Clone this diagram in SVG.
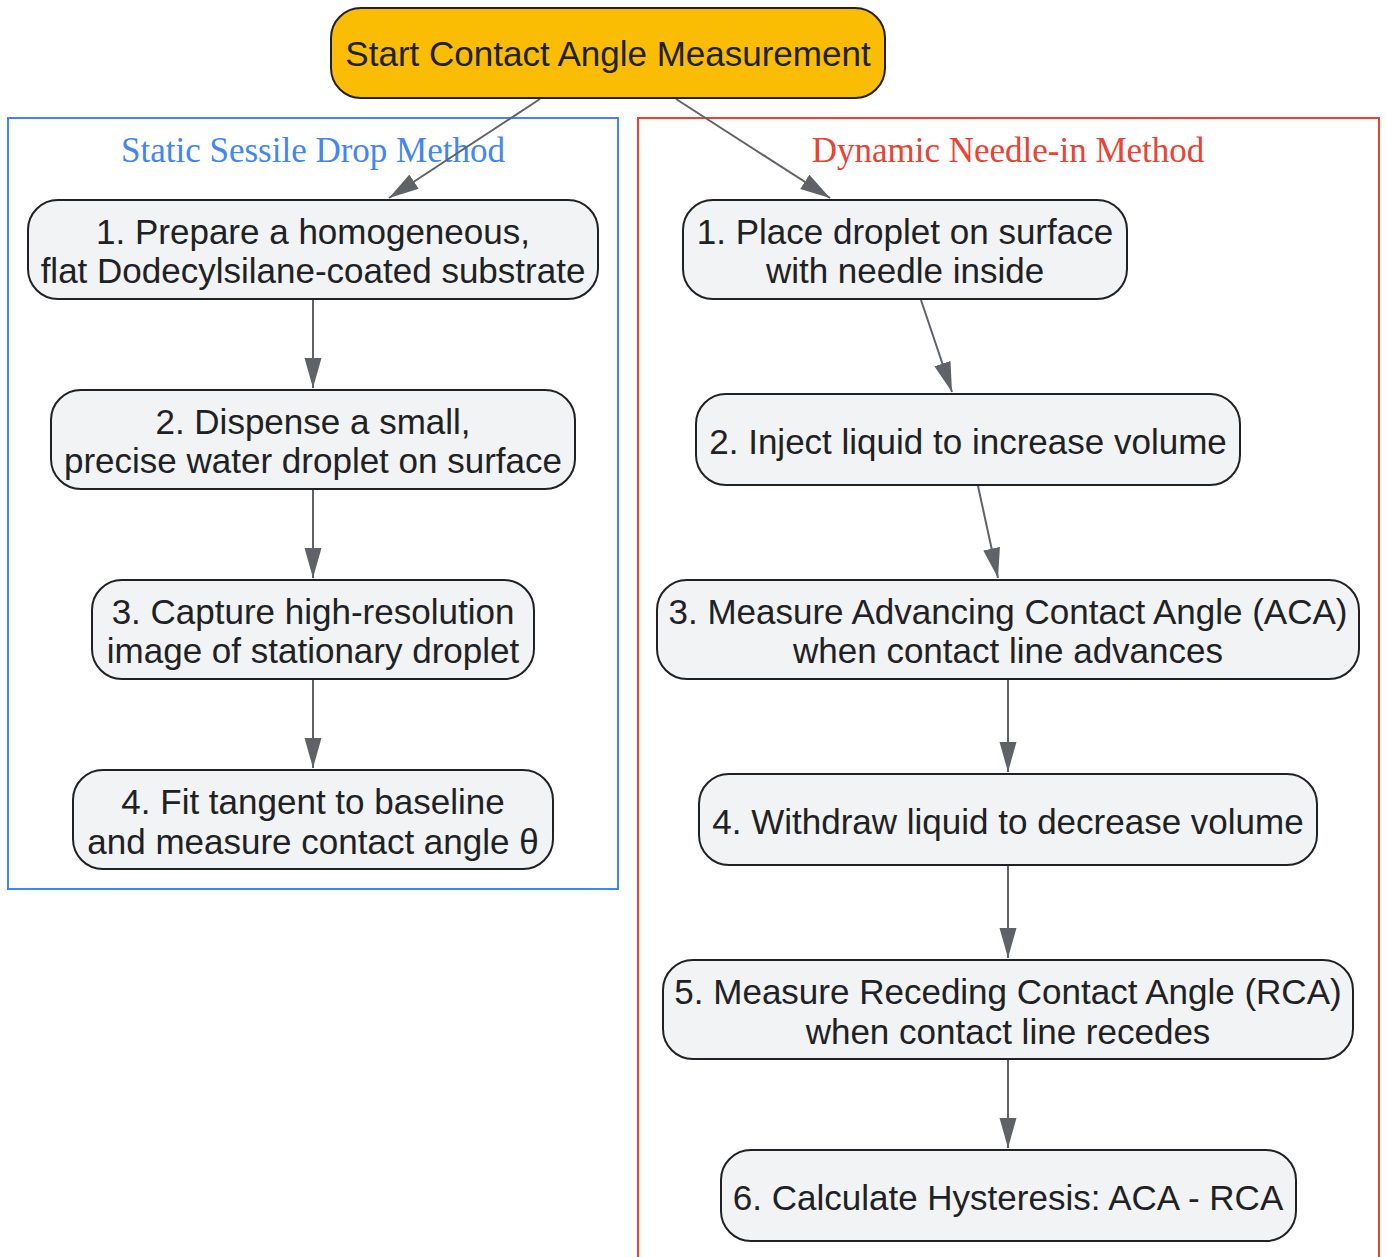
<svg xmlns="http://www.w3.org/2000/svg" width="1386" height="1257" viewBox="0 0 1386 1257">
<defs>
<style>
.node rect{fill:#F1F3F4;stroke:#202124;stroke-width:2}
.start rect{fill:#FBBC04;stroke:#202124;stroke-width:2}
text.t{font-family:"Liberation Sans",Arial,sans-serif;font-size:35px;fill:#202124;text-anchor:middle}
text.ct{font-family:"Liberation Serif","Times New Roman",serif;font-size:35px;text-anchor:middle}
.edge{stroke:#5F6368;stroke-width:2;fill:none;marker-end:url(#arr)}
</style>
<marker id="arr" markerUnits="userSpaceOnUse" markerWidth="30" markerHeight="18" refX="30" refY="8.5" orient="auto">
<path d="M0,0 L30,8.5 L0,17 z" fill="#5F6368"/>
</marker>
</defs>
<rect width="1386" height="1257" fill="#FFFFFF"/>
<g id="cluster-static">
<rect x="8" y="118" width="610" height="771" fill="none" stroke="#4285F4" stroke-width="2"/>
<text class="ct" x="313" y="162" fill="#4285F4">Static Sessile Drop Method</text>
</g>
<g id="cluster-dynamic">
<rect x="638" y="118" width="741" height="1160" fill="none" stroke="#EA4335" stroke-width="2"/>
<text class="ct" x="1008" y="162" fill="#EA4335">Dynamic Needle-in Method</text>
</g>
<g id="connectors">
<path class="edge" d="M540,99 L389,198"/>
<path class="edge" d="M676,99 L830,198"/>
<path class="edge" d="M313,300 L313,388"/>
<path class="edge" d="M313,490 L313,578"/>
<path class="edge" d="M313,680 L313,768"/>
<path class="edge" d="M921,300 L952,392"/>
<path class="edge" d="M978,486 L998,578"/>
<path class="edge" d="M1008,680 L1008,772"/>
<path class="edge" d="M1008,866 L1008,958"/>
<path class="edge" d="M1008,1060 L1008,1148"/>
</g>
<g id="start" class="start">
<rect x="331" y="8" width="554" height="90" rx="30" ry="30"/>
<text class="t" x="608" y="66">Start Contact Angle Measurement</text>
</g>
<g id="s1" class="node">
<rect x="28" y="200" width="570" height="99" rx="30" ry="30"/>
<text class="t" x="313" y="244">1. Prepare a homogeneous,</text>
<text class="t" x="313" y="283">flat Dodecylsilane-coated substrate</text>
</g>
<g id="s2" class="node">
<rect x="51" y="390" width="524" height="99" rx="30" ry="30"/>
<text class="t" x="313" y="434">2. Dispense a small,</text>
<text class="t" x="313" y="473">precise water droplet on surface</text>
</g>
<g id="s3" class="node">
<rect x="92" y="580" width="442" height="99" rx="30" ry="30"/>
<text class="t" x="313" y="624">3. Capture high-resolution</text>
<text class="t" x="313" y="663">image of stationary droplet</text>
</g>
<g id="s4" class="node">
<rect x="73" y="770" width="480" height="99" rx="30" ry="30"/>
<text class="t" x="313" y="814">4. Fit tangent to baseline</text>
<text class="t" x="313" y="854">and measure contact angle θ</text>
</g>
<g id="d1" class="node">
<rect x="683" y="200" width="444" height="99" rx="30" ry="30"/>
<text class="t" x="905" y="244">1. Place droplet on surface</text>
<text class="t" x="905" y="283">with needle inside</text>
</g>
<g id="d2" class="node">
<rect x="696" y="394" width="544" height="91" rx="30" ry="30"/>
<text class="t" x="968" y="454">2. Inject liquid to increase volume</text>
</g>
<g id="d3" class="node">
<rect x="657" y="580" width="702" height="99" rx="30" ry="30"/>
<text class="t" x="1008" y="624">3. Measure Advancing Contact Angle (ACA)</text>
<text class="t" x="1008" y="663">when contact line advances</text>
</g>
<g id="d4" class="node">
<rect x="699" y="774" width="618" height="91" rx="30" ry="30"/>
<text class="t" x="1008" y="834">4. Withdraw liquid to decrease volume</text>
</g>
<g id="d5" class="node">
<rect x="663" y="960" width="690" height="99" rx="30" ry="30"/>
<text class="t" x="1008" y="1004">5. Measure Receding Contact Angle (RCA)</text>
<text class="t" x="1008" y="1044">when contact line recedes</text>
</g>
<g id="d6" class="node">
<rect x="721" y="1150" width="575" height="91" rx="30" ry="30"/>
<text class="t" x="1008" y="1210">6. Calculate Hysteresis: ACA - RCA</text>
</g>
</svg>
